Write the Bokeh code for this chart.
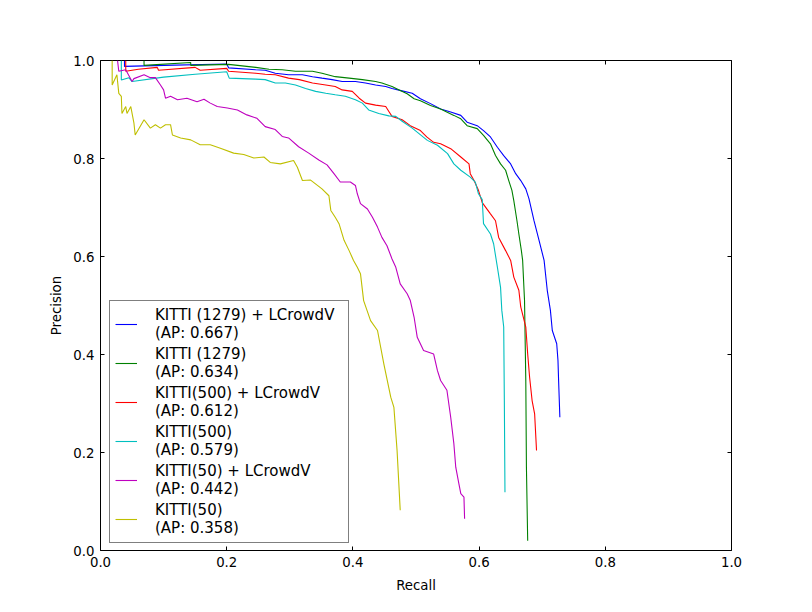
from bokeh.plotting import figure
from bokeh.models import (Range1d, LinearAxis, FixedTicker, PrintfTickFormatter,
                          Legend, LegendItem, CustomJSTickFormatter)
from bokeh.embed import file_html
from bokeh.resources import INLINE

# ---- data ----
labels = [
    "KITTI (1279) + LCrowdV\n(AP: 0.667)",
    "KITTI (1279)\n(AP: 0.634)",
    "KITTI(500) + LCrowdV\n(AP: 0.612)",
    "KITTI(500)\n(AP: 0.579)",
    "KITTI(50) + LCrowdV\n(AP: 0.442)",
    "KITTI(50)\n(AP: 0.358)",
]
colors = ["#0000ff", "#008000", "#ff0000", "#00bfbf", "#bf00bf", "#bfbf00"]

blue_recall = [0.038, 0.038, 0.10, 0.20, 0.203, 0.246, 0.261, 0.277, 0.298, 0.320, 0.336, 0.351,
               0.367, 0.383, 0.404, 0.420, 0.436, 0.452, 0.462, 0.478, 0.494, 0.507, 0.523,
               0.539, 0.555, 0.571, 0.581, 0.597, 0.607, 0.618, 0.629, 0.639, 0.650, 0.658,
               0.666, 0.674, 0.679, 0.687, 0.695, 0.703, 0.708, 0.713, 0.716, 0.723, 0.725,
               0.726, 0.728]
blue_precision = [1.0, 0.988, 0.990, 0.993, 0.985, 0.981, 0.980, 0.974, 0.971, 0.971, 0.967, 0.964,
                  0.961, 0.957, 0.957, 0.954, 0.950, 0.947, 0.943, 0.938, 0.933, 0.922, 0.912,
                  0.901, 0.895, 0.888, 0.874, 0.867, 0.857, 0.844, 0.823, 0.806, 0.789, 0.769,
                  0.755, 0.738, 0.718, 0.673, 0.633, 0.592, 0.531, 0.490, 0.449, 0.422, 0.388,
                  0.347, 0.272]

green_recall = [0.069, 0.069, 0.143, 0.143, 0.203, 0.246, 0.267, 0.288, 0.309, 0.336, 0.351, 0.372,
                0.394, 0.415, 0.436, 0.446, 0.462, 0.475, 0.486, 0.497, 0.507, 0.523, 0.539,
                0.560, 0.571, 0.581, 0.597, 0.607, 0.618, 0.626, 0.634, 0.642, 0.647, 0.652,
                0.655, 0.660, 0.663, 0.667, 0.669, 0.672, 0.674, 0.675, 0.677]
green_precision = [1.0, 0.990, 0.996, 0.990, 0.992, 0.986, 0.982, 0.981, 0.978, 0.978, 0.974, 0.967,
                   0.964, 0.961, 0.957, 0.954, 0.947, 0.939, 0.932, 0.922, 0.918, 0.908, 0.901,
                   0.888, 0.881, 0.867, 0.861, 0.847, 0.830, 0.806, 0.789, 0.776, 0.755, 0.735,
                   0.714, 0.673, 0.646, 0.612, 0.592, 0.510, 0.347, 0.170, 0.020]

red_recall = [0.040, 0.040, 0.060, 0.090, 0.092, 0.150, 0.158, 0.200, 0.203, 0.246, 0.261, 0.277,
              0.298, 0.315, 0.336, 0.357, 0.372, 0.383, 0.399, 0.410, 0.420, 0.436, 0.452,
              0.457, 0.462, 0.478, 0.491, 0.507, 0.517, 0.528, 0.539, 0.555, 0.571, 0.584,
              0.586, 0.592, 0.599, 0.605, 0.618, 0.626, 0.631, 0.642, 0.650, 0.655, 0.663,
              0.666, 0.674, 0.677, 0.680, 0.684, 0.688, 0.691]
red_precision = [1.0, 0.978, 0.982, 0.986, 0.980, 0.986, 0.980, 0.984, 0.978, 0.974, 0.972, 0.971,
                 0.964, 0.961, 0.954, 0.950, 0.947, 0.940, 0.937, 0.923, 0.913, 0.909, 0.906,
                 0.896, 0.886, 0.879, 0.867, 0.857, 0.844, 0.833, 0.830, 0.820, 0.803, 0.789,
                 0.769, 0.755, 0.735, 0.710, 0.687, 0.673, 0.639, 0.612, 0.592, 0.558, 0.531,
                 0.497, 0.456, 0.401, 0.354, 0.306, 0.279, 0.204]

cyan_recall = [0.033, 0.033, 0.045, 0.050, 0.100, 0.150, 0.200, 0.204, 0.246, 0.261, 0.277, 0.293,
               0.309, 0.325, 0.341, 0.357, 0.372, 0.388, 0.404, 0.415, 0.425, 0.441, 0.457,
               0.468, 0.478, 0.494, 0.518, 0.534, 0.550, 0.560, 0.571, 0.586, 0.594, 0.599,
               0.605, 0.607, 0.618, 0.623, 0.629, 0.634, 0.636, 0.639, 0.640, 0.641]
cyan_precision = [1.0, 0.960, 0.965, 0.957, 0.966, 0.972, 0.977, 0.964, 0.962, 0.961, 0.954, 0.954,
                  0.950, 0.943, 0.937, 0.933, 0.930, 0.927, 0.920, 0.913, 0.899, 0.892, 0.887,
                  0.886, 0.876, 0.862, 0.837, 0.827, 0.810, 0.789, 0.776, 0.762, 0.752, 0.728,
                  0.716, 0.667, 0.646, 0.626, 0.578, 0.537, 0.490, 0.456, 0.306, 0.119]

magenta_recall = [0.027, 0.029, 0.040, 0.050, 0.053, 0.069, 0.079, 0.087, 0.095, 0.100, 0.103,
                  0.111, 0.122, 0.137, 0.153, 0.164, 0.174, 0.185, 0.201, 0.217, 0.232, 0.248,
                  0.261, 0.277, 0.288, 0.298, 0.314, 0.330, 0.346, 0.359, 0.370, 0.380, 0.396,
                  0.404, 0.407, 0.412, 0.423, 0.431, 0.439, 0.446, 0.454, 0.462, 0.468, 0.475,
                  0.486, 0.491, 0.497, 0.502, 0.512, 0.528, 0.534, 0.539, 0.549, 0.555, 0.560,
                  0.563, 0.568, 0.571, 0.576, 0.577]
magenta_precision = [1.0, 0.978, 0.981, 0.957, 0.963, 0.971, 0.965, 0.965, 0.950, 0.940, 0.923,
                     0.927, 0.920, 0.923, 0.916, 0.921, 0.913, 0.906, 0.903, 0.899, 0.889, 0.882,
                     0.865, 0.859, 0.845, 0.842, 0.824, 0.811, 0.797, 0.787, 0.769, 0.752, 0.752,
                     0.745, 0.728, 0.708, 0.697, 0.680, 0.660, 0.639, 0.622, 0.595, 0.578, 0.544,
                     0.524, 0.510, 0.476, 0.435, 0.408, 0.401, 0.367, 0.347, 0.327, 0.272, 0.218,
                     0.170, 0.136, 0.116, 0.109, 0.065]

olive_recall = [0.0185, 0.0185, 0.026, 0.029, 0.033, 0.034, 0.040, 0.042, 0.048, 0.053, 0.055,
                0.069, 0.079, 0.087, 0.095, 0.103, 0.111, 0.114, 0.127, 0.143, 0.158, 0.174,
                0.190, 0.211, 0.227, 0.243, 0.259, 0.269, 0.285, 0.306, 0.312, 0.320, 0.333,
                0.351, 0.362, 0.365, 0.372, 0.378, 0.386, 0.394, 0.401, 0.407, 0.412, 0.417,
                0.428, 0.439, 0.449, 0.460, 0.465, 0.470, 0.475]
olive_precision = [1.0, 0.950, 0.971, 0.933, 0.927, 0.892, 0.906, 0.892, 0.906, 0.872, 0.848,
                   0.879, 0.862, 0.869, 0.862, 0.869, 0.869, 0.848, 0.842, 0.838, 0.828, 0.828,
                   0.821, 0.811, 0.808, 0.801, 0.803, 0.792, 0.789, 0.796, 0.782, 0.755, 0.756,
                   0.738, 0.724, 0.694, 0.680, 0.667, 0.633, 0.612, 0.592, 0.578, 0.565, 0.510,
                   0.469, 0.449, 0.381, 0.313, 0.292, 0.204, 0.082]

recalls = [blue_recall, green_recall, red_recall, cyan_recall, magenta_recall, olive_recall]
precisions = [blue_precision, green_precision, red_precision, cyan_precision,
              magenta_precision, olive_precision]

tick_values = [0.0, 0.2, 0.4, 0.6, 0.8, 1.0]

FONT = "DejaVu Sans"

p = figure(width=804, height=604, output_backend="svg", toolbar_location=None,
           x_range=Range1d(0, 1), y_range=Range1d(0, 1),
           min_border_left=100, min_border_right=73, min_border_top=60, min_border_bottom=54,
           background_fill_color="white", border_fill_color="white")
p.grid.visible = False
p.outline_line_color = "black"
p.outline_line_width = 1
p.outline_line_alpha = 1

renderers = []
for xs, ys, c in zip(recalls, precisions, colors):
    r = p.line(xs, ys, line_color=c, line_width=1.1)
    renderers.append(r)

def style_axis(ax, show_labels):
    ax.ticker = FixedTicker(ticks=tick_values)
    ax.axis_line_color = None
    ax.major_tick_in = 4
    ax.major_tick_out = 0
    ax.major_tick_line_color = "black"
    ax.minor_tick_line_color = None
    if show_labels:
        ax.formatter = PrintfTickFormatter(format="%.1f")
        ax.major_label_text_font = FONT
        ax.major_label_text_font_size = "13.3px"
        ax.major_label_text_color = "black"
        ax.major_label_standoff = 6
        ax.axis_label_text_font = FONT
        ax.axis_label_text_font_size = "13.3px"
        ax.axis_label_text_font_style = "normal"
        ax.axis_label_text_color = "black"
    else:
        ax.formatter = CustomJSTickFormatter(code="return ''")

style_axis(p.xaxis[0], True)
style_axis(p.yaxis[0], True)
p.xaxis[0].axis_label = "Recall"
p.yaxis[0].axis_label = "Precision"
p.xaxis[0].axis_label_standoff = 8
p.yaxis[0].axis_label_standoff = 6

top = LinearAxis()
right = LinearAxis()
style_axis(top, False)
style_axis(right, False)
p.add_layout(top, "above")
p.add_layout(right, "right")

items = [LegendItem(label=l, renderers=[r]) for l, r in zip(labels, renderers)]
legend = Legend(items=items, location=(9, 7))
legend.label_text_font = FONT
legend.label_text_font_size = "15px"
legend.label_text_line_height = 1.0
legend.label_text_color = "black"
legend.glyph_width = 22
legend.label_standoff = 18
legend.label_width = 188
legend.padding = 5
legend.spacing = 3
legend.margin = 0
legend.border_line_color = "black"
legend.border_line_width = 1
legend.background_fill_color = "white"
legend.background_fill_alpha = 1
p.add_layout(legend)

open("out.html", "w").write(file_html(p, INLINE))
